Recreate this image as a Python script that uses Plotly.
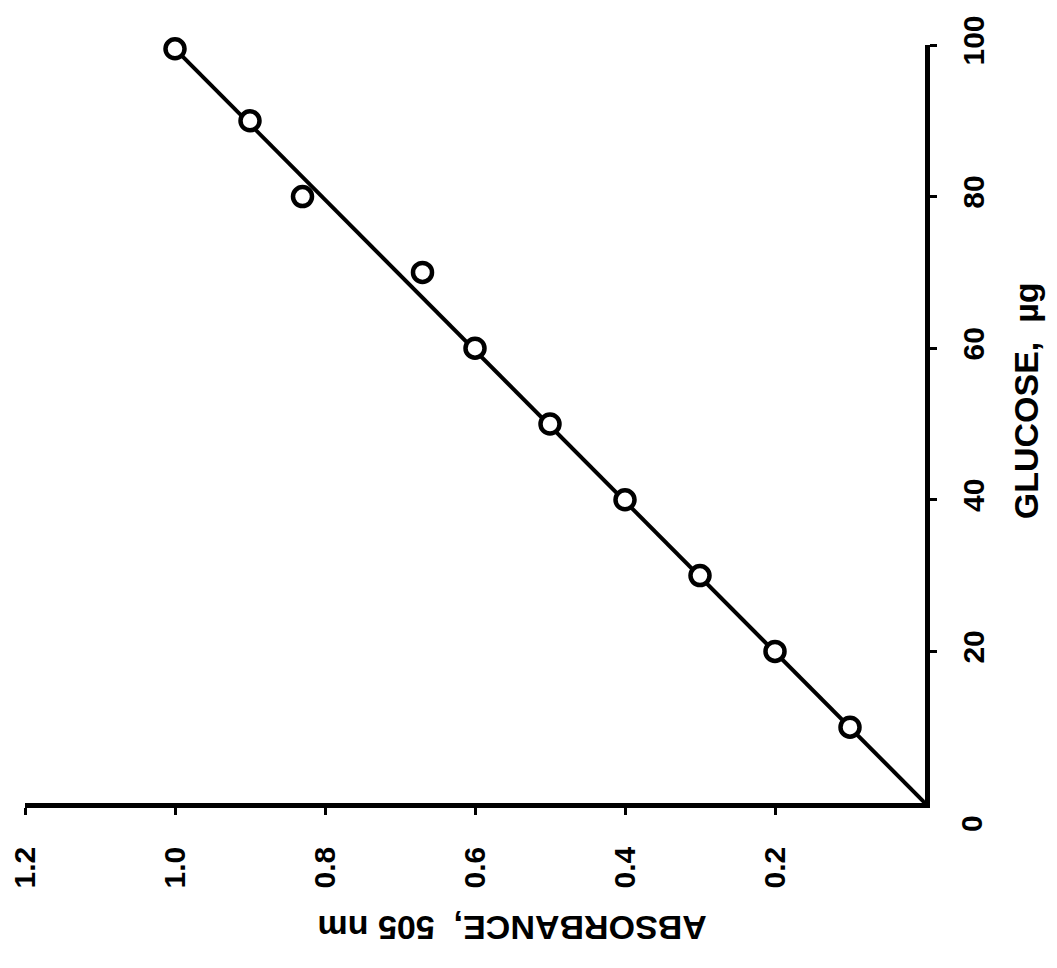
import plotly.graph_objects as go

# Data read from the (rotated) reference chart
glucose_ug = [10, 20, 30, 40, 50, 60, 70, 80, 90, 99.5]
absorbance = [0.10, 0.20, 0.30, 0.40, 0.50, 0.60, 0.67, 0.83, 0.90, 1.00]

fit_glucose = [0, 99.5]
fit_absorbance = [0, 1.0]

abs_ticks = [0.2, 0.4, 0.6, 0.8, 1.0, 1.2]
glu_ticks = [20, 40, 60, 80, 100]

FONT = "Liberation Sans"
TICK_SIZE = 30
TITLE_SIZE = 34

fig = go.Figure()
fig.add_trace(go.Scatter(
    x=fit_absorbance, y=fit_glucose, mode="lines",
    line=dict(color="black", width=4), cliponaxis=False, showlegend=False))
fig.add_trace(go.Scatter(
    x=absorbance, y=glucose_ug, mode="markers",
    marker=dict(symbol="circle", size=19, color="white",
                line=dict(color="black", width=4.5)),
    cliponaxis=False, showlegend=False))

fig.update_layout(
    width=1057, height=968,
    margin=dict(l=17, r=140, t=37, b=173),
    plot_bgcolor="white", paper_bgcolor="white",
    font=dict(family=FONT, size=TICK_SIZE, color="black", weight="bold"),
    xaxis=dict(
        range=[1.2, 0], tickvals=abs_ticks, tickformat=".1f",
        tickangle=-90, ticks="outside", ticklen=7, tickwidth=3,
        tickcolor="black", showline=True, linecolor="black", linewidth=4.5,
        showgrid=False, zeroline=False, ticklabelstandoff=20,
        ticklabeloverflow="allow", automargin=False,
        tickfont=dict(family=FONT, size=TICK_SIZE, weight="bold"),
    ),
    yaxis=dict(
        range=[0, 100], side="right", tickvals=glu_ticks,
        tickangle=-90, ticks="outside", ticklen=7, tickwidth=3,
        tickcolor="black", showline=True, linecolor="black", linewidth=4.5,
        showgrid=False, zeroline=False, ticklabelstandoff=11,
        ticklabeloverflow="allow", automargin=False,
        tickfont=dict(family=FONT, size=TICK_SIZE, weight="bold"),
    ),
    annotations=[
        dict(text="0", xref="paper", yref="paper", x=1, y=0,
             xanchor="center", yanchor="middle",
             xshift=46, yshift=-21, showarrow=False, textangle=-90,
             font=dict(family=FONT, size=TICK_SIZE, weight="bold")),
        dict(text="ABSORBANCE,  505 nm", xref="paper", yref="paper",
             x=0.541, y=0, xanchor="center", yanchor="middle",
             yshift=-125, showarrow=False, textangle=180,
             font=dict(family=FONT, size=TITLE_SIZE, weight="bold")),
        dict(text="GLUCOSE,  µg", xref="paper", yref="paper",
             x=1, y=0.53, xanchor="center", yanchor="middle",
             xshift=101, showarrow=False, textangle=-90,
             font=dict(family=FONT, size=TITLE_SIZE, weight="bold")),
    ],
)

fig.write_html("out.html")
